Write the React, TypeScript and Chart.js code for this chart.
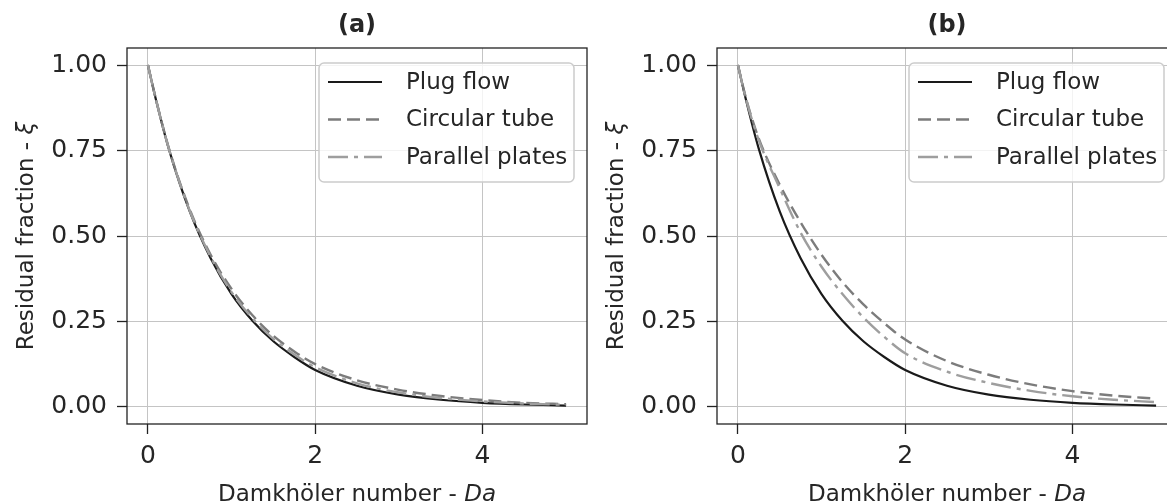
import React, { useEffect, useRef } from "react";
import { Chart, registerables } from "chart.js";

Chart.register(...registerables);

// ---------- data ----------
const daValues = [0, 0.1, 0.25, 0.5, 0.75, 1, 1.25, 1.5, 1.75, 2, 2.5, 3, 3.5, 4, 4.5, 5];
const plugFlow = [1.0, 0.895, 0.755, 0.572, 0.435, 0.33, 0.252, 0.192, 0.146, 0.108, 0.062, 0.036, 0.021, 0.012, 0.007, 0.004];
const circularA = [1.0, 0.896, 0.757, 0.578, 0.445, 0.345, 0.268, 0.208, 0.162, 0.125, 0.078, 0.05, 0.032, 0.02, 0.012, 0.008];
const parallelA = [1.0, 0.895, 0.756, 0.574, 0.439, 0.336, 0.259, 0.199, 0.153, 0.116, 0.069, 0.042, 0.026, 0.016, 0.01, 0.006];
const circularB = [1.0, 0.9, 0.785, 0.65, 0.54, 0.445, 0.365, 0.3, 0.245, 0.197, 0.134, 0.094, 0.066, 0.046, 0.033, 0.024];
const parallelB = [1.0, 0.898, 0.78, 0.64, 0.51, 0.41, 0.33, 0.262, 0.205, 0.157, 0.103, 0.07, 0.047, 0.031, 0.021, 0.014];
const seriesLabels = ["Plug flow", "Circular tube", "Parallel plates"];
const panelTitles = ["(a)", "(b)"];
const xTicks = [0, 2, 4];
const yTicks = [0, 0.25, 0.5, 0.75, 1.0];
const xLabelMain = "Damkhöler number - ";
const xLabelItalic = "Da";
const yLabelMain = "Residual fraction - ";
const yLabelItalic = "ξ";

// ---------- styles ----------
const FONT = "'DejaVu Sans', sans-serif";
const TEXT = "#262626";
const lineStyles = [
  { color: "#1a1a1a", dash: [] as number[], width: 2.2, order: 2 },
  { color: "#7c7c7c", dash: [13, 6], width: 2.4, order: 1 },
  { color: "#9e9e9e", dash: [20, 6, 4, 6], width: 2.4, order: 0 },
];

const W = 600;
const H = 504;

function drawParts(ctx: CanvasRenderingContext2D, parts: { t: string; f: string }[], cx: number, y: number) {
  let total = 0;
  const widths = parts.map((p) => {
    ctx.font = p.f;
    const w = ctx.measureText(p.t).width;
    total += w;
    return w;
  });
  let x = cx - total / 2;
  parts.forEach((p, i) => {
    ctx.font = p.f;
    ctx.fillText(p.t, x, y);
    x += widths[i];
  });
}

const decorPlugin = {
  id: "decor",
  afterDatasetsDraw(chart: any) {
    const { ctx, chartArea } = chart;
    const { left, right, top, bottom } = chartArea;
    ctx.save();
    // frame
    ctx.strokeStyle = "#222222";
    ctx.lineWidth = 1.3;
    ctx.setLineDash([]);
    ctx.strokeRect(left, top, right - left, bottom - top);

    // legend
    const w = 255;
    const h = 119;
    const x0 = right - 13 - w;
    const y0 = top + 15;
    ctx.beginPath();
    if ((ctx as any).roundRect) (ctx as any).roundRect(x0, y0, w, h, 5);
    else ctx.rect(x0, y0, w, h);
    ctx.fillStyle = "rgba(255,255,255,0.8)";
    ctx.fill();
    ctx.strokeStyle = "#cccccc";
    ctx.lineWidth = 1.5;
    ctx.stroke();
    chart.data.datasets.forEach((ds: any, i: number) => {
      const cy = y0 + 19 + i * 37.5;
      ctx.beginPath();
      ctx.setLineDash(ds.borderDash || []);
      ctx.strokeStyle = ds.borderColor;
      ctx.lineWidth = ds.borderWidth;
      ctx.moveTo(x0 + 9, cy);
      ctx.lineTo(x0 + 63, cy);
      ctx.stroke();
      ctx.setLineDash([]);
      ctx.fillStyle = TEXT;
      ctx.font = `23px ${FONT}`;
      ctx.textBaseline = "middle";
      ctx.textAlign = "left";
      ctx.fillText(ds.label, x0 + 87, cy + 1);
    });
    ctx.restore();
  },
  afterDraw(chart: any) {
    const { ctx, chartArea } = chart;
    const { left, right, top, bottom } = chartArea;
    const cx = (left + right) / 2;
    const cy = (top + bottom) / 2;
    const title = chart.options.plugins.decor.title;
    ctx.save();
    ctx.fillStyle = TEXT;
    ctx.textAlign = "left";
    // title
    ctx.textBaseline = "middle";
    ctx.font = `bold 24px ${FONT}`;
    const tw = ctx.measureText(title).width;
    ctx.fillText(title, cx - tw / 2, 26);
    // x label
    ctx.textBaseline = "alphabetic";
    drawParts(
      ctx,
      [
        { t: xLabelMain, f: `23px ${FONT}` },
        { t: xLabelItalic, f: `italic 23px ${FONT}` },
      ],
      cx,
      501
    );
    // y label
    ctx.translate(33, cy);
    ctx.rotate(-Math.PI / 2);
    drawParts(
      ctx,
      [
        { t: yLabelMain, f: `23px ${FONT}` },
        { t: yLabelItalic, f: `italic 23px ${FONT}` },
      ],
      0,
      0
    );
    ctx.restore();
  },
};

function makeConfig(title: string, circ: number[], par: number[]): any {
  const series = [plugFlow, circ, par];
  return {
    type: "line",
    data: {
      datasets: series.map((vals, i) => ({
        label: seriesLabels[i],
        data: daValues.map((x, j) => ({ x, y: vals[j] })),
        borderColor: lineStyles[i].color,
        borderDash: lineStyles[i].dash,
        borderWidth: lineStyles[i].width,
        order: lineStyles[i].order,
        pointRadius: 0,
        fill: false,
        cubicInterpolationMode: "monotone",
      })),
    },
    options: {
      responsive: false,
      animation: false,
      devicePixelRatio: 1,
      layout: { padding: { top: 48, right: 13, left: 0, bottom: 0 } },
      plugins: {
        legend: { display: false },
        tooltip: { enabled: false },
        title: { display: false },
        decor: { title },
      },
      scales: {
        x: {
          type: "linear",
          min: -0.25,
          max: 5.25,
          afterBuildTicks: (scale: any) => {
            scale.ticks = xTicks.map((v) => ({ value: v }));
          },
          afterFit: (scale: any) => {
            scale.height = 80;
          },
          border: { display: false },
          grid: { color: "#c4c4c4", lineWidth: 1, tickLength: 10, tickColor: "#222222", tickWidth: 1.3 },
          ticks: {
            padding: 7,
            color: TEXT,
            font: { family: FONT, size: 25 },
            maxRotation: 0,
            callback: (v: any) => String(v),
          },
        },
        y: {
          type: "linear",
          min: -0.05,
          max: 1.05,
          afterBuildTicks: (scale: any) => {
            scale.ticks = yTicks.map((v) => ({ value: v }));
          },
          afterFit: (scale: any) => {
            scale.width = 127;
          },
          border: { display: false },
          grid: { color: "#c4c4c4", lineWidth: 1, tickLength: 10, tickColor: "#222222", tickWidth: 1.3 },
          ticks: {
            padding: 10,
            color: TEXT,
            font: { family: FONT, size: 25 },
            callback: (v: any) => Number(v).toFixed(2),
          },
        },
      },
    },
    plugins: [decorPlugin],
  };
}

function Panel({ index, circ, par, left }: { index: number; circ: number[]; par: number[]; left: number }) {
  const ref = useRef<HTMLCanvasElement | null>(null);
  useEffect(() => {
    if (!ref.current) return;
    const chart = new Chart(ref.current, makeConfig(panelTitles[index], circ, par));
    return () => chart.destroy();
  }, []);
  return (
    <canvas
      ref={ref}
      width={W}
      height={H}
      style={{ position: "absolute", left, top: 0, width: W, height: H }}
    />
  );
}

export default function App() {
  return (
    <div
      style={{
        position: "fixed",
        left: 0,
        top: 0,
        width: 1167,
        height: 504,
        overflow: "hidden",
        background: "#ffffff",
      }}
    >
      <Panel index={0} circ={circularA} par={parallelA} left={0} />
      <Panel index={1} circ={circularB} par={parallelB} left={590} />
    </div>
  );
}
